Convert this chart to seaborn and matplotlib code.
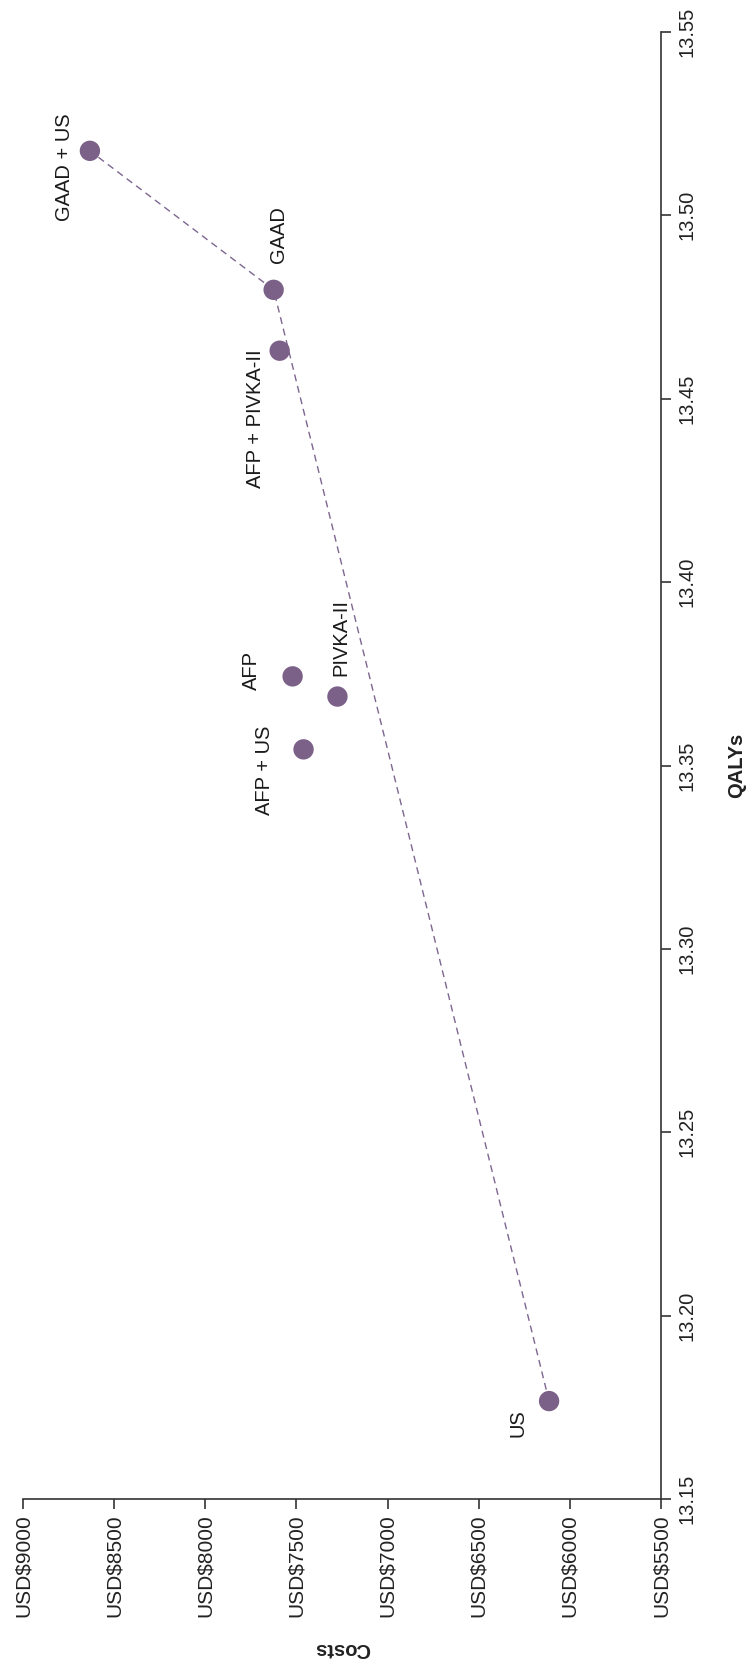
import matplotlib
matplotlib.use("Agg")
import matplotlib.pyplot as plt
import seaborn as sns
import pandas as pd

# ---- data ----
strategies = ["GAAD + US", "GAAD", "AFP + PIVKA-II", "AFP", "PIVKA-II", "AFP + US", "US"]
costs = [8633, 7625, 7592, 7521, 7275, 7461, 6114]
qalys = [13.5176, 13.4797, 13.4631, 13.3743, 13.3688, 13.3544, 13.1767]
frontier = ["US", "GAAD", "GAAD + US"]
cost_ticks = [9000, 8500, 8000, 7500, 7000, 6500, 6000, 5500]
cost_tick_labels = ["USD$9000", "USD$8500", "USD$8000", "USD$7500",
                    "USD$7000", "USD$6500", "USD$6000", "USD$5500"]
qaly_ticks = [13.15, 13.20, 13.25, 13.30, 13.35, 13.40, 13.45, 13.50, 13.55]
qaly_tick_labels = ["13.15", "13.20", "13.25", "13.30", "13.35", "13.40", "13.45", "13.50", "13.55"]

# label offsets (points, display space) -- layout only
label_offsets = {
    "GAAD + US": (-18, -12),
    "GAAD": (3.6, 40),
    "AFP + PIVKA-II": (-17.3, -49),
    "AFP": (-29.5, 4.3),
    "PIVKA-II": (2.2, 42.5),
    "AFP + US": (-28, -15),
    "US": (-22.3, -15.8),
}

df = pd.DataFrame({"Strategy": strategies, "Costs": costs, "QALYs": qalys})
fdf = df.set_index("Strategy").loc[frontier].reset_index()

sns.set_style("white")
plt.rcParams["font.family"] = ["Liberation Sans", "DejaVu Sans"]

W, H = 747, 1662
fig = plt.figure(figsize=(W / 100, H / 100), dpi=100)
ax = fig.add_axes([23 / W, 163 / H, (661 - 23) / W, (1499 - 32) / H])

purple = "#7b6088"
sns.lineplot(data=fdf, x="Costs", y="QALYs", sort=False, ax=ax, color="#7d6690",
             linewidth=1.0, linestyle=(0, (5, 3.5)), zorder=1)
sns.scatterplot(data=df, x="Costs", y="QALYs", ax=ax, color=purple, s=215,
                edgecolor="none", zorder=3)

for name, c, q in zip(strategies, costs, qalys):
    dx, dy = label_offsets[name]
    ax.annotate(name, (c, q), xytext=(dx, dy), textcoords="offset points",
                rotation=90, ha="center", va="center", fontsize=14.5, color="#1a1a1a")

ax.set_xlim(9000, 5500)
ax.set_ylim(13.15, 13.55)

ax.set_xticks(cost_ticks)
ax.set_xticklabels(cost_tick_labels, rotation=90, fontsize=15, color="#222222",
                   ha="center", va="top")
ax.yaxis.tick_right()
ax.set_yticks(qaly_ticks)
ax.set_yticklabels(qaly_tick_labels, rotation=90, fontsize=14.5, color="#222222",
                   va="center", ha="left")

for s in ["left", "top"]:
    ax.spines[s].set_visible(False)
for s in ["bottom", "right"]:
    ax.spines[s].set_color("#333333")
    ax.spines[s].set_linewidth(1.2)

ax.tick_params(axis="x", which="both", direction="out", length=7.5, width=1.2,
               color="#333333", pad=3.5, bottom=True)
ax.tick_params(axis="y", which="both", direction="out", length=7.5, width=1.2,
               color="#333333", pad=4.5, right=True, left=False)

ax.set_xlabel("Costs", fontsize=14.5, fontweight="bold", rotation=180, color="#222222")
ax.xaxis.label.set_va("center")
ax.xaxis.set_label_coords(0.5, -0.1016)
ax.yaxis.set_label_position("right")
ax.set_ylabel("QALYs", fontsize=14.5, fontweight="bold", rotation=90, color="#222222")
ax.yaxis.label.set_va("center")
ax.yaxis.set_label_coords(1.119, 0.5)

ax.grid(False)
fig.savefig("out.png", dpi=100)
